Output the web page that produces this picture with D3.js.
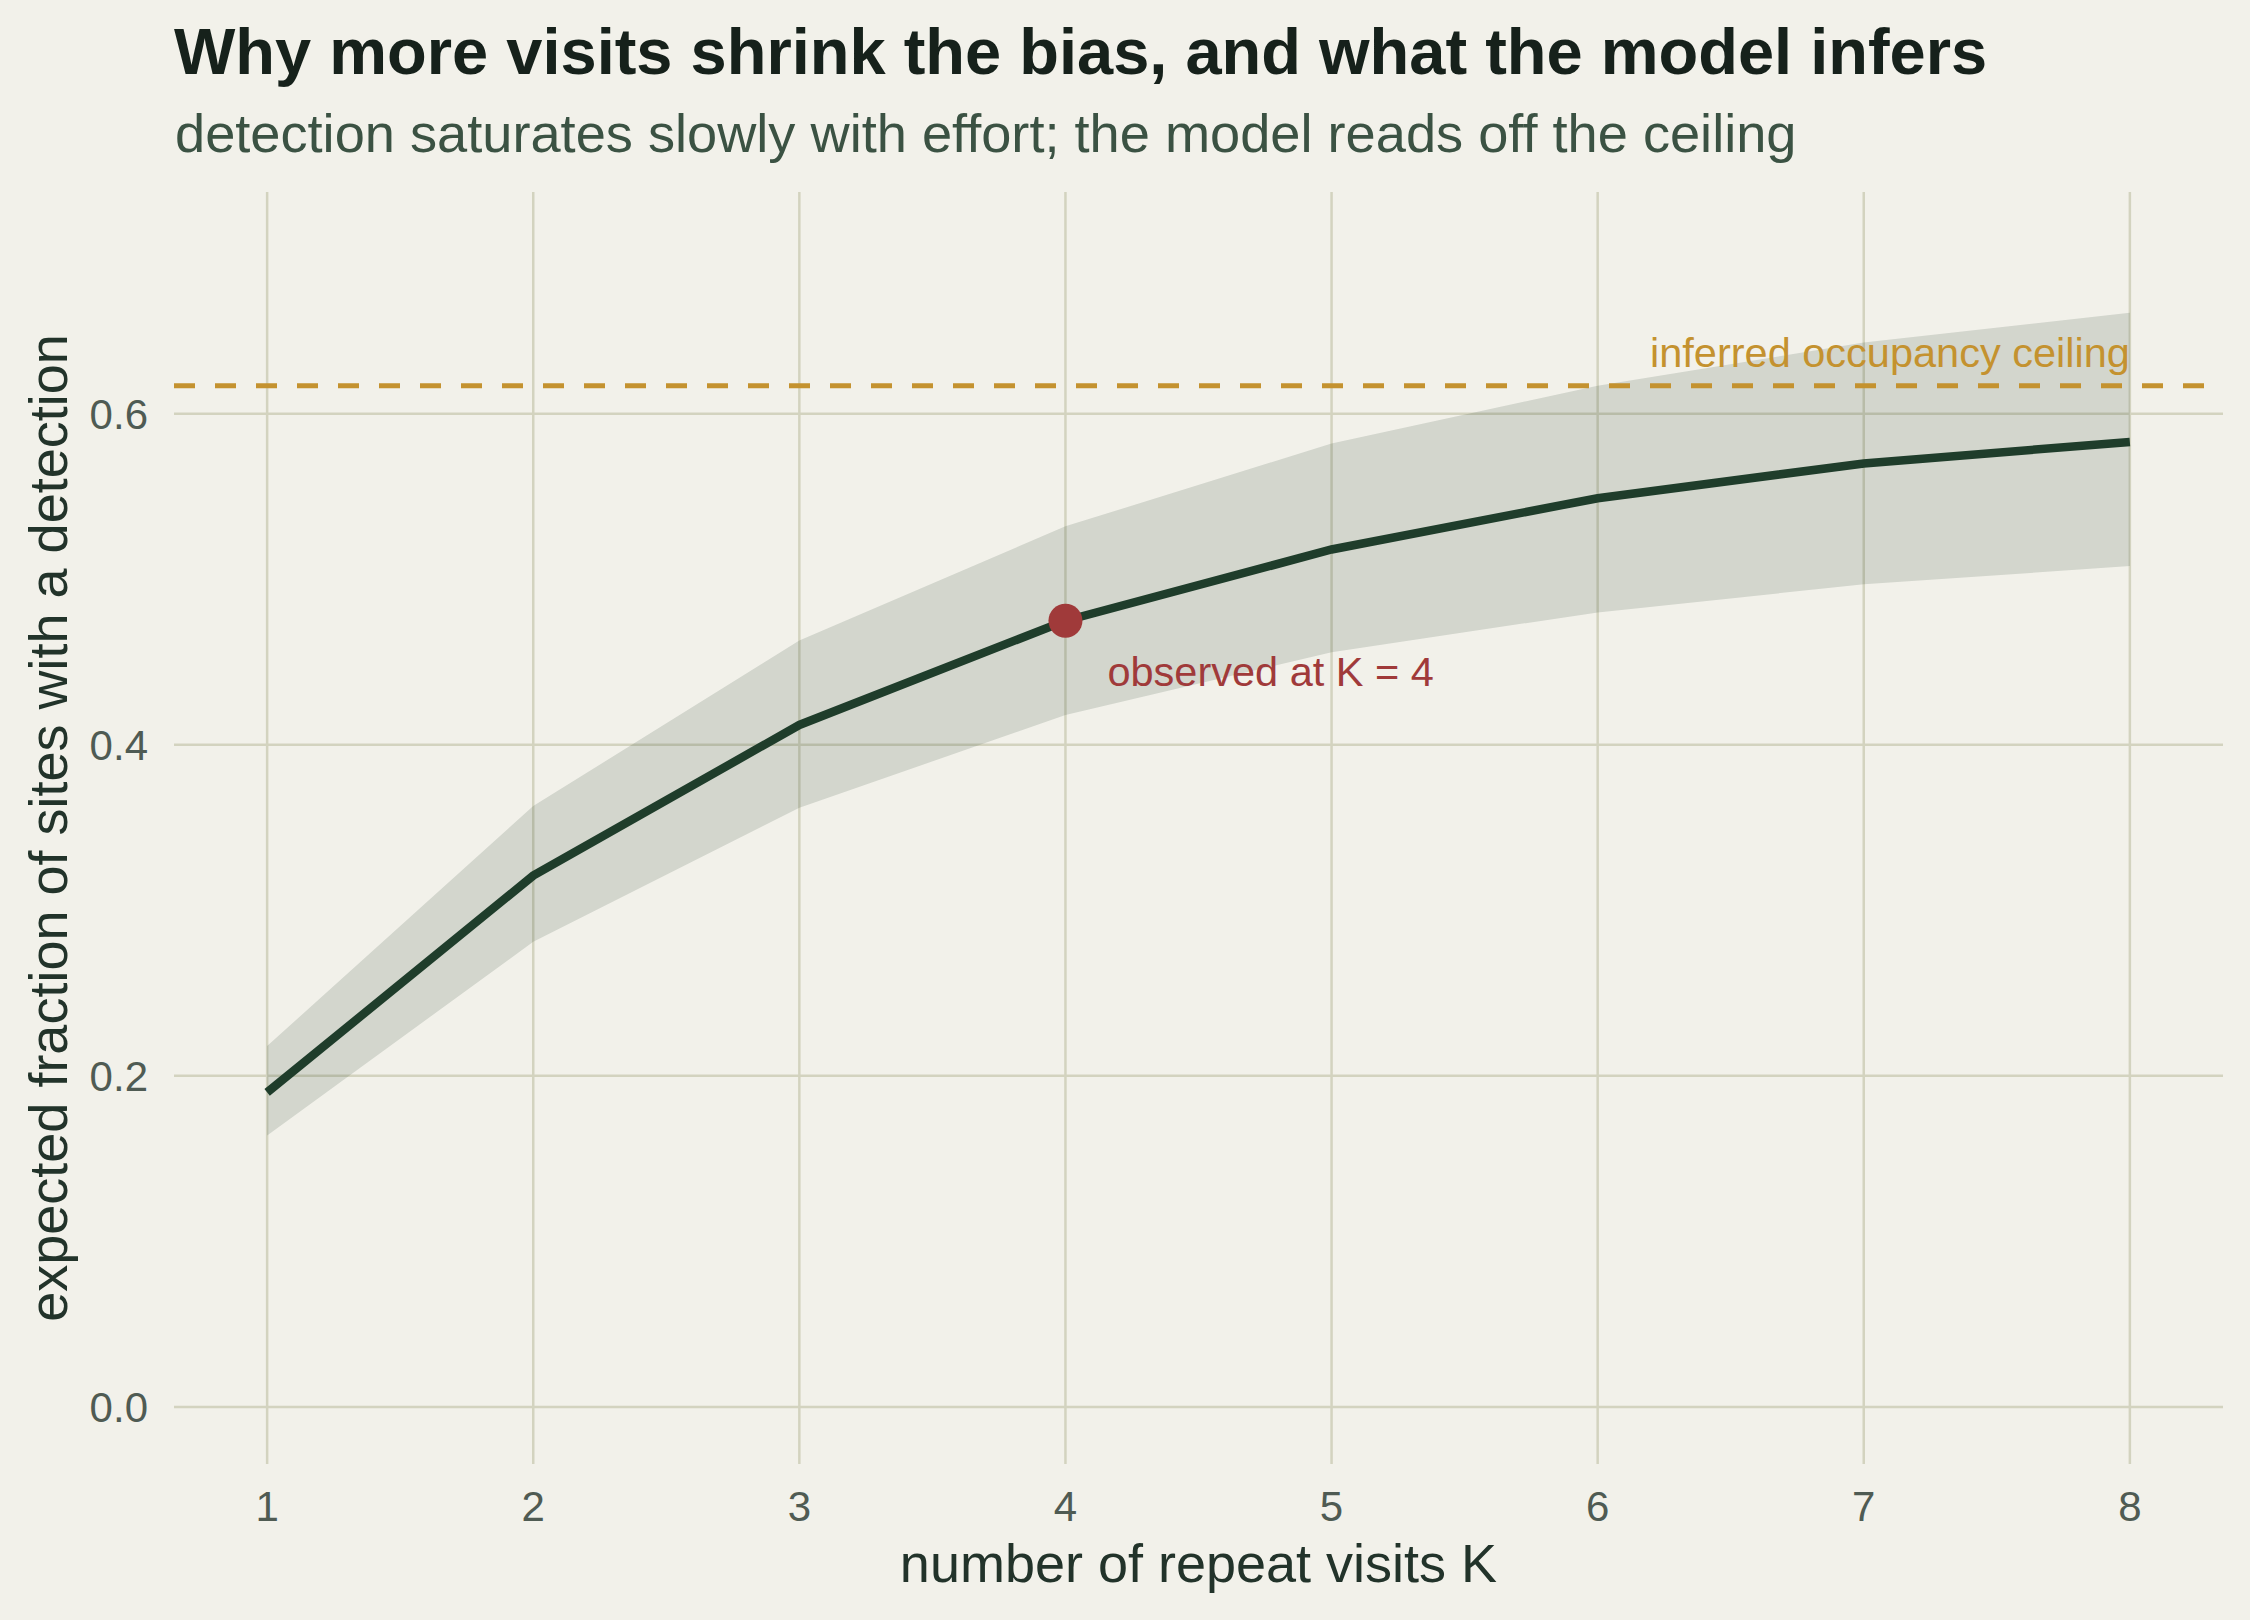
<!DOCTYPE html>
<html lang="en">
<head>
    <meta charset="utf-8">
    <title>Why more visits shrink the bias</title>
    <script src="https://d3js.org/d3.v7.min.js"></script>
    <style>
        body {
            margin: 0;
            background-color: #f2f1ea;
            font-family: "Liberation Sans", Arial, sans-serif;
        }
        svg { display: block; }
        .grid line { stroke: #d3d3bf; stroke-width: 2.5; }
        .tick-label { fill: #4f5b53; font-size: 42px; }
    </style>
</head>
<body>
    <svg id="chart" width="2250" height="1620"></svg>

    <script>
        // data
        const visits = [1, 2, 3, 4, 5, 6, 7, 8];
        const expected = [0.190, 0.321, 0.412, 0.475, 0.518, 0.549, 0.570, 0.583];
        const lower = [0.164, 0.281, 0.362, 0.418, 0.456, 0.480, 0.497, 0.508];
        const upper = [0.218, 0.363, 0.463, 0.532, 0.582, 0.617, 0.643, 0.661];
        const ceiling = 0.617;
        const observedK = 4;
        const yTicks = [0.0, 0.2, 0.4, 0.6];

        const svg = d3.select("#chart");
        const margin = { left: 174, right: 27, top: 192, bottom: 156 };
        const width = 2250, height = 1620;

        svg.append("rect")
            .attr("width", width).attr("height", height)
            .attr("fill", "#f2f1ea");

        const x = d3.scaleLinear()
            .domain([0.65, 8.35])
            .range([margin.left, width - margin.right]);
        const y = d3.scaleLinear()
            .domain([-0.0345, 0.734])
            .range([height - margin.bottom, margin.top]);

        // gridlines
        const grid = svg.append("g").attr("class", "grid");
        grid.selectAll(".vg")
            .data(visits)
            .join("line")
            .attr("x1", d => x(d)).attr("x2", d => x(d))
            .attr("y1", y.range()[0]).attr("y2", y.range()[1]);
        grid.selectAll(".hg")
            .data(yTicks)
            .join("line")
            .attr("x1", x.range()[0]).attr("x2", x.range()[1])
            .attr("y1", d => y(d)).attr("y2", d => y(d));

        // tick labels
        svg.append("g").selectAll("text")
            .data(visits)
            .join("text")
            .attr("class", "tick-label")
            .attr("x", d => x(d))
            .attr("y", y.range()[0] + 57)
            .attr("text-anchor", "middle")
            .text(d => d);
        svg.append("g").selectAll("text")
            .data(yTicks)
            .join("text")
            .attr("class", "tick-label")
            .attr("x", x.range()[0] - 26)
            .attr("y", d => y(d))
            .attr("dy", "0.36em")
            .attr("text-anchor", "end")
            .text(d => d3.format(".1f")(d));

        const rows = visits.map((k, i) => ({ k, m: expected[i], lo: lower[i], hi: upper[i] }));

        // uncertainty band
        svg.append("path")
            .datum(rows)
            .attr("fill", "#1f3d2b")
            .attr("fill-opacity", 0.15)
            .attr("d", d3.area()
                .x(d => x(d.k))
                .y0(d => y(d.lo))
                .y1(d => y(d.hi)));

        // ceiling
        svg.append("line")
            .attr("x1", x.range()[0]).attr("x2", x.range()[1])
            .attr("y1", y(ceiling)).attr("y2", y(ceiling))
            .attr("stroke", "#c4922f")
            .attr("stroke-width", 5)
            .attr("stroke-dasharray", "21,20");
        svg.append("text")
            .attr("x", x(8))
            .attr("y", y(ceiling) - 19)
            .attr("text-anchor", "end")
            .attr("fill", "#c4922f")
            .style("font-size", "41.5px")
            .text("inferred occupancy ceiling");

        // expected curve
        svg.append("path")
            .datum(rows)
            .attr("fill", "none")
            .attr("stroke", "#1f3d2b")
            .attr("stroke-width", 8.5)
            .attr("d", d3.line().x(d => x(d.k)).y(d => y(d.m)));

        // observed point
        const obs = rows.find(d => d.k === observedK);
        svg.append("circle")
            .attr("cx", x(obs.k)).attr("cy", y(obs.m))
            .attr("r", 17)
            .attr("fill", "#a03a3a");
        svg.append("text")
            .attr("x", x(obs.k) + 42)
            .attr("y", y(obs.m) + 65)
            .attr("fill", "#a03a3a")
            .style("font-size", "41.5px")
            .text("observed at K = " + observedK);

        // axis labels
        svg.append("text")
            .attr("x", (x.range()[0] + x.range()[1]) / 2)
            .attr("y", 1582)
            .attr("text-anchor", "middle")
            .attr("fill", "#22332a")
            .style("font-size", "54px")
            .text("number of repeat visits K");
        svg.append("text")
            .attr("transform", `translate(67,${(y.range()[0] + y.range()[1]) / 2}) rotate(-90)`)
            .attr("text-anchor", "middle")
            .attr("fill", "#22332a")
            .style("font-size", "54px")
            .text("expected fraction of sites with a detection");

        // titles
        svg.append("text")
            .attr("x", 174).attr("y", 74)
            .attr("fill", "#16211b")
            .style("font-size", "65px")
            .style("font-weight", "bold")
            .text("Why more visits shrink the bias, and what the model infers");
        svg.append("text")
            .attr("x", 175).attr("y", 152)
            .attr("fill", "#3b5243")
            .style("font-size", "54.2px")
            .text("detection saturates slowly with effort; the model reads off the ceiling");
    </script>
</body>
</html>
